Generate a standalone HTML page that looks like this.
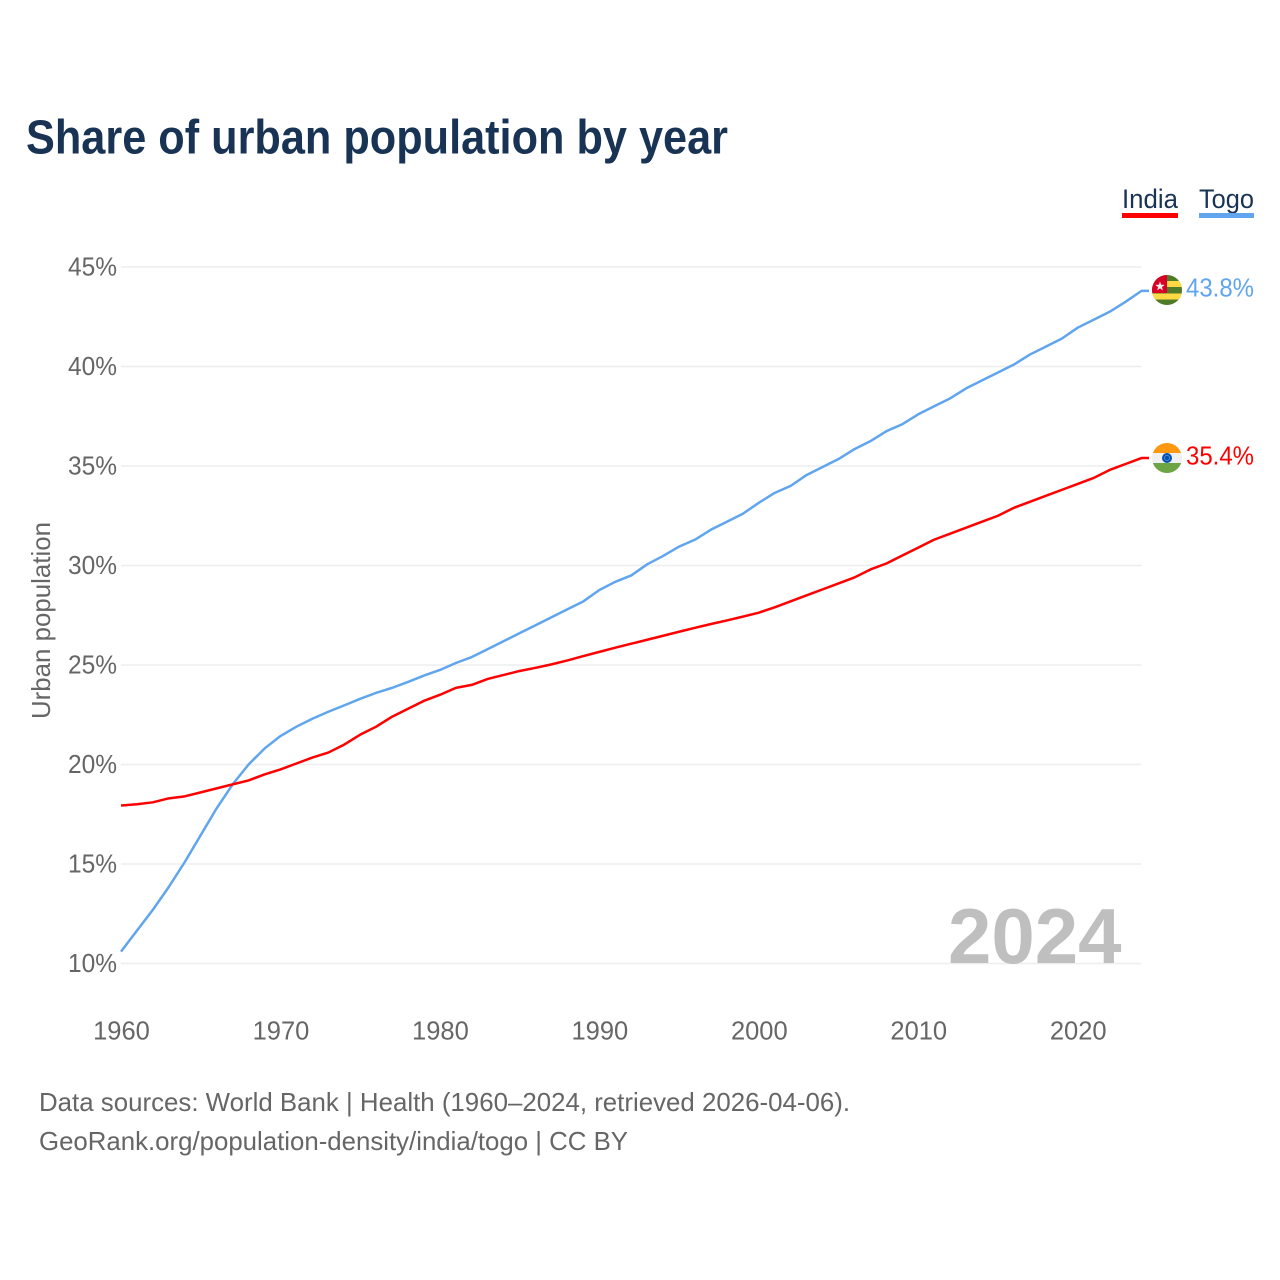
<!DOCTYPE html>
<html lang="en">
<head>
<meta charset="utf-8">
<title>Share of urban population by year</title>
<style>
html,body{margin:0;padding:0;background:#fff;width:1280px;height:1280px;overflow:hidden}
svg{display:block}
text{font-family:"Liberation Sans",sans-serif}
</style>
</head>
<body>
<svg id="chart" width="1280" height="1280" viewBox="0 0 1280 1280" xmlns="http://www.w3.org/2000/svg">
  <defs>
    <clipPath id="clip-togo"><circle cx="1167" cy="290" r="15"/></clipPath>
    <clipPath id="clip-india"><circle cx="1167" cy="458" r="15"/></clipPath>
  </defs>
  <text x="26" y="153.5" font-size="48" font-weight="700" fill="#183354" textLength="702" lengthAdjust="spacingAndGlyphs">Share of urban population by year</text>

  <g>
    <g>
      <text x="1122" y="208" font-size="27" fill="#183354" textLength="56" lengthAdjust="spacingAndGlyphs">India</text>
      <rect x="1122" y="213" width="56" height="5" fill="#ff0000"/>
    </g>
    <g>
      <text x="1199" y="208" font-size="27" fill="#183354" textLength="55" lengthAdjust="spacingAndGlyphs">Togo</text>
      <rect x="1199" y="213" width="55" height="5" fill="#60a5ee"/>
    </g>
  </g>

  <g id="grid"></g>
  <g id="y-ticks"></g>
  <g id="x-ticks"></g>

  <text transform="translate(50,620.5) rotate(-90)" text-anchor="middle" font-size="26" fill="#666666" textLength="197" lengthAdjust="spacingAndGlyphs">Urban population</text>

  <text x="948" y="963" font-size="78" font-weight="700" fill="#bfbfbf">2024</text>

  <g id="series"></g>

  <g clip-path="url(#clip-togo)">
    <rect x="1152" y="275" width="30" height="30" fill="#4f7a28"/>
    <rect x="1152" y="281" width="30" height="6" fill="#ffd944"/>
    <rect x="1152" y="293.5" width="30" height="6" fill="#ffd944"/>
    <rect x="1152" y="275" width="15" height="18" fill="#d80027"/>
    <polygon transform="translate(0,1.5)" points="1160,280 1161.2,283.3 1164.7,283.4 1161.9,285.5 1162.9,288.9 1160,286.9 1157.1,288.9 1158.1,285.5 1155.3,283.4 1158.8,283.3" fill="#f0f0f0"/>
  </g>
  <g clip-path="url(#clip-india)">
    <rect x="1152" y="443" width="30" height="30" fill="#f0f0f0"/>
    <rect x="1152" y="443" width="30" height="10" fill="#ff9811"/>
    <rect x="1152" y="463" width="30" height="10" fill="#6da544"/>
    <circle cx="1167" cy="458" r="5" fill="#0052b4"/>
    <circle cx="1167" cy="458" r="2.6" fill="none" stroke="#6f93c9" stroke-width="0.7"/>
  </g>

  <text id="label-togo" x="1186" y="296.5" font-size="26" fill="#60a5ee" textLength="68" lengthAdjust="spacingAndGlyphs"></text>
  <text id="label-india" x="1186" y="464.5" font-size="26" fill="#ff0000" textLength="68" lengthAdjust="spacingAndGlyphs"></text>

  <text x="39" y="1111" font-size="26" fill="#666666" textLength="811" lengthAdjust="spacingAndGlyphs">Data sources: World Bank | Health (1960–2024, retrieved 2026-04-06).</text>
  <text x="39" y="1150" font-size="26" fill="#666666" textLength="589" lengthAdjust="spacingAndGlyphs">GeoRank.org/population-density/india/togo | CC BY</text>
</svg>
<script>
const startYear = 1960;
const endYear = 2024;
const yTickValues = [10, 15, 20, 25, 30, 35, 40, 45];
const xTickYears = [1960, 1970, 1980, 1990, 2000, 2010, 2020];
const indiaValues = [17.94,18.0,18.1,18.3,18.4,18.6,18.8,19.0,19.2,19.5,19.75,20.05,20.35,20.6,21.0,21.5,21.9,22.4,22.8,23.2,23.5,23.85,24.0,24.3,24.5,24.7,24.86,25.03,25.23,25.45,25.66,25.87,26.07,26.27,26.47,26.67,26.87,27.06,27.24,27.43,27.63,27.9,28.2,28.5,28.8,29.1,29.4,29.8,30.1,30.5,30.9,31.3,31.6,31.9,32.2,32.5,32.9,33.2,33.5,33.8,34.1,34.4,34.8,35.1,35.4];
const togoValues = [10.6,11.65,12.7,13.85,15.1,16.45,17.8,19.0,20.0,20.8,21.43,21.9,22.3,22.65,22.97,23.3,23.6,23.85,24.15,24.47,24.75,25.1,25.4,25.8,26.2,26.6,27.0,27.4,27.8,28.2,28.77,29.18,29.5,30.06,30.48,30.95,31.3,31.8,32.2,32.6,33.15,33.65,34.0,34.55,34.95,35.35,35.85,36.25,36.75,37.1,37.6,38.0,38.4,38.9,39.3,39.7,40.1,40.6,41.0,41.4,41.95,42.35,42.75,43.25,43.8];

const NS = 'http://www.w3.org/2000/svg';
const xLeft = 121, xRight = 1141.5;
const yBottom = 963.5, yTop = 267;
function xScale(year) { return xLeft + (year - startYear) * (xRight - xLeft) / (endYear - startYear); }
function yScale(v) { return yBottom - (v - 10) * (yBottom - yTop) / 35; }

const grid = document.getElementById('grid');
const yTicks = document.getElementById('y-ticks');
yTickValues.forEach(function (v) {
  const line = document.createElementNS(NS, 'line');
  
  
  line.setAttribute('x1', xLeft);
  line.setAttribute('x2', xRight);
  line.setAttribute('y1', yScale(v));
  line.setAttribute('y2', yScale(v));
  line.setAttribute('stroke', '#eeeeee');
  line.setAttribute('stroke-width', '1.5');
  grid.appendChild(line);
  const t = document.createElementNS(NS, 'text');
  
  
  t.setAttribute('x', 117);
  t.setAttribute('y', yScale(v) + 8.5);
  t.setAttribute('text-anchor', 'end');
  t.setAttribute('font-size', '25.5');
  t.setAttribute('textLength', '49');
  t.setAttribute('lengthAdjust', 'spacingAndGlyphs');
  t.setAttribute('fill', '#666666');
  t.textContent = v + '%';
  yTicks.appendChild(t);
});

const xTicks = document.getElementById('x-ticks');
xTickYears.forEach(function (yr) {
  const t = document.createElementNS(NS, 'text');
  
  
  t.setAttribute('x', xScale(yr) + 0.5);
  t.setAttribute('y', 1039.5);
  t.setAttribute('text-anchor', 'middle');
  t.setAttribute('font-size', '25.5');
  t.setAttribute('fill', '#666666');
  t.textContent = yr;
  xTicks.appendChild(t);
});

function drawSeries(name, values, color) {
  const pts = values.map(function (v, i) { return xScale(startYear + i).toFixed(2) + ',' + yScale(v).toFixed(2); });
  const lastY = yScale(values[values.length - 1]).toFixed(2);
  pts.push('1149,' + lastY);
  const line = document.createElementNS(NS, 'polyline');
  
  
  line.setAttribute('points', pts.join(' '));
  line.setAttribute('fill', 'none');
  line.setAttribute('stroke', color);
  line.setAttribute('stroke-width', '2.5');
  line.setAttribute('stroke-linejoin', 'round');
  document.getElementById('series').appendChild(line);
}
drawSeries('togo', togoValues, '#60a5ee');
drawSeries('india', indiaValues, '#ff0000');

document.getElementById('label-togo').textContent = togoValues[togoValues.length - 1].toFixed(1) + '%';
document.getElementById('label-india').textContent = indiaValues[indiaValues.length - 1].toFixed(1) + '%';
</script>
</body>
</html>
